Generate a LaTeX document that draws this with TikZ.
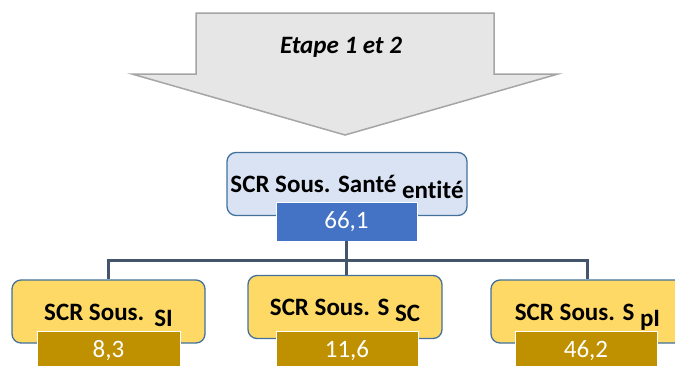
\documentclass[tikz,border=0pt]{standalone}
\usepackage{fontspec}
\setmainfont{Carlito}[Ligatures=NoCommon]
\usetikzlibrary{calc}
\newcommand{\subtxt}[1]{\raisebox{-6pt}{#1}}

\begin{document}
\begin{tikzpicture}[x=1pt, y=-1pt]
  \definecolor{arrowbg}{HTML}{E7E6E6}
  \definecolor{arrowline}{HTML}{A5A5A5}
  \definecolor{santebg}{HTML}{DAE3F3}
  \definecolor{boxline}{HTML}{41719C}
  \definecolor{santeval}{HTML}{4472C4}
  \definecolor{subbg}{HTML}{FFD966}
  \definecolor{subval}{HTML}{BF9000}
  \definecolor{linkcol}{HTML}{44546A}
  \tikzset{
    entity/.style={rectangle, rounded corners=9pt,
      minimum width=#1, minimum height=63pt,
      text height=25pt, text depth=8pt, inner sep=0pt,
      font=\fontsize{25}{29}\selectfont\bfseries,
      draw=boxline, line width=1.3pt},
    value/.style={rectangle, minimum width=142pt, minimum height=39pt,
      inner sep=0pt, font=\fontsize{25}{29}\selectfont,
      text=white, draw=white, line width=0.8pt, fill=#1},
    link/.style={line width=3pt, color=linkcol}
  }
  \useasboundingbox (0,0) rectangle (675,365);
  \clip (0,0) rectangle (675,365);
  % big arrow
  \draw[fill=arrowbg, draw=arrowline, line width=1.5pt]
    (196,13) -- (494,13) -- (494,74) -- (558,74) -- (345,135)
    -- (132,74) -- (196,74) -- cycle;
  \node[font=\fontsize{25}{29}\selectfont\bfseries\itshape] (etape) at (341,47) {Etape 1 et 2};
  % entity
  \node[entity=240pt, fill=santebg] (sante) at (347,184) {SCR Sous. Santé \subtxt{entité}};
  \node[value=santeval, minimum width=141pt] (vsante) at (346.5,221.5) {66,1};
  % sub-modules
  \node[entity=193pt, fill=subbg] (si) at (108.5,311.5) {SCR Sous.\hspace{10pt}\subtxt{SI}};
  \node[entity=194pt, fill=subbg] (sc) at (345,307) {SCR Sous. S \subtxt{SC}};
  \node[entity=193pt, fill=subbg] (pi) at (587.5,311.5) {SCR Sous. S \subtxt{pI}};
  \draw[link] (vsante.south) -- ++(0,19) -| (si.north);
  \draw[link] (vsante.south) -- ++(0,19) -| (pi.north);
  \draw[link] (vsante.south) -- (vsante.south |- sc.north);
  \node[value=subval, minimum width=143pt] (vsi) at (108.5,350.5) {8,3};
  \node[value=subval] (vsc) at (347,350.5) {11,6};
  \node[value=subval] (vpi) at (586,350.5) {46,2};
\end{tikzpicture}
\end{document}
